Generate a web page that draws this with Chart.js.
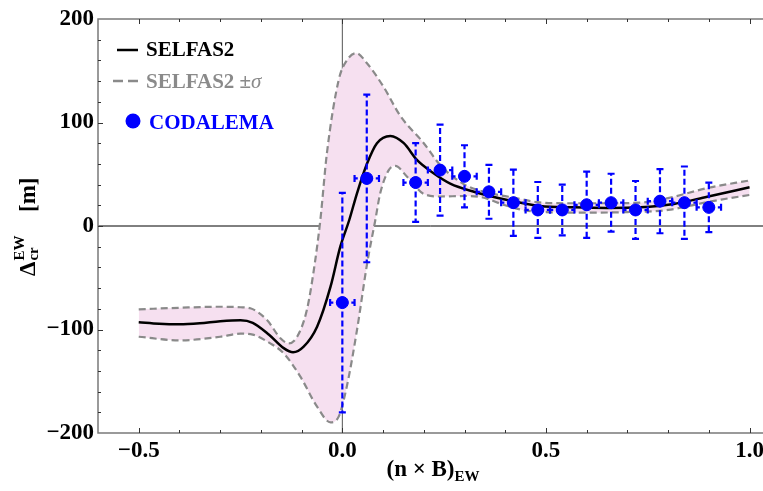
<!DOCTYPE html>
<html>
<head>
<meta charset="utf-8">
<script src="https://cdn.jsdelivr.net/npm/chart.js@4.4.0/dist/chart.umd.min.js"></script>
<style>
  body { margin: 0; background: #fff; overflow: hidden; }
  #wrap { width: 763px; height: 491px; }
</style>
</head>
<body>
<div id="wrap"><canvas id="myChart"></canvas></div>
<script>
// SELFAS2 simulation (black line)
const selfasX = [-0.5, -0.45, -0.4, -0.35, -0.3, -0.25, -0.22, -0.18, -0.144, -0.121, -0.095, -0.062, -0.029, -0.005, 0.017, 0.036, 0.061, 0.085, 0.118, 0.151, 0.183, 0.224, 0.265, 0.323, 0.405, 0.486, 0.568, 0.65, 0.732, 0.814, 0.896, 1.0];
const selfasY = [-93, -94.5, -95, -94, -92, -91, -93.5, -105, -118, -122, -116.6, -97.3, -58.6, -20, 5.8, 31.6, 60.6, 80, 87, 80, 63.8, 51, 41, 33.1, 25.1, 19.3, 18, 17.4, 18, 21.3, 28.3, 37.4];

// SELFAS2 + sigma
const upperX = [-0.5, -0.4, -0.3, -0.25, -0.226, -0.185, -0.152, -0.132, -0.111, -0.087, -0.07, -0.054, -0.038, -0.009, 0.011, 0.034, 0.061, 0.101, 0.143, 0.2, 0.24, 0.3, 0.36, 0.42, 0.48, 0.55, 0.65, 0.73, 0.8, 0.9, 1.0];
const upperY = [-80.5, -79, -78, -78.5, -79.5, -90.8, -108.5, -113.4, -107, -81, -42.5, 5.8, 70, 141, 160, 167, 157, 134.6, 106, 80, 59, 40, 32, 27.5, 23, 22, 22, 22.5, 27, 37, 44];

// SELFAS2 - sigma
const lowerX = [-0.5, -0.4, -0.3, -0.25, -0.22, -0.177, -0.144, -0.103, -0.062, -0.029, -0.009, 0.011, 0.036, 0.061, 0.081, 0.093, 0.114, 0.13, 0.159, 0.2, 0.24, 0.3, 0.34, 0.4, 0.45, 0.5, 0.6, 0.7, 0.8, 0.87, 0.93, 1.0];
const lowerY = [-107, -110.5, -107, -104, -105, -113.4, -123, -145.6, -174.6, -189.7, -184.2, -155, -100.5, -36, 5.8, 31.6, 54, 58, 47.6, 31, 28.5, 29, 28, 20, 15, 13.5, 12.9, 13.5, 15.5, 21, 25.5, 30];

// CODALEMA data
const codalemaX = [0.0, 0.06, 0.18, 0.24, 0.30, 0.36, 0.42, 0.48, 0.54, 0.60, 0.66, 0.72, 0.78, 0.84, 0.90];
const codalemaY = [-74, 46, 42, 54, 48, 33, 22.5, 15.5, 15.5, 20.5, 22.5, 15.5, 24, 22.5, 18];
const codalemaErrY = [106, 81, 38, 44, 30, 26, 32, 27, 24.5, 32, 28, 28, 31, 35, 24];
const codalemaErrX = [0.03, 0.03, 0.03, 0.03, 0.03, 0.03, 0.03, 0.03, 0.03, 0.03, 0.03, 0.03, 0.03, 0.03, 0.03];

const xTicks = [-0.5, 0.0, 0.5, 1.0];
const yTicks = [-200, -100, 0, 100, 200];

const serif = "'Liberation Serif', 'DejaVu Serif', serif";
const blue = '#0000ff';
const grey = '#8a8a8a';

function toPoints(xs, ys) {
    return xs.map((x, i) => ({ x: x, y: ys[i] }));
}

function minus(s) {
    return s.replace('-', '\u2212');
}

// lignes zero, sous les courbes
const zeroLines = {
    id: 'zeroLines',
    beforeDatasetsDraw(chart) {
        const ctx = chart.ctx, a = chart.chartArea;
        const x0 = chart.scales.x.getPixelForValue(0);
        const y0 = chart.scales.y.getPixelForValue(0);
        ctx.save();
        ctx.lineWidth = 1;
        ctx.strokeStyle = '#555';
        ctx.beginPath(); ctx.moveTo(x0, a.top); ctx.lineTo(x0, a.bottom); ctx.stroke();
        ctx.strokeStyle = '#000';
        ctx.beginPath(); ctx.moveTo(a.left, y0); ctx.lineTo(a.right, y0); ctx.stroke();
        ctx.restore();
    }
};

// barres d'erreur, juste avant les points
const errorBars = {
    id: 'errorBars',
    beforeDatasetDraw(chart, args) {
        if (args.index !== 3) return;
        const ctx = chart.ctx, xs = chart.scales.x, ys = chart.scales.y;
        ctx.save();
        ctx.strokeStyle = blue;
        ctx.lineWidth = 2.2;
        for (let i = 0; i < codalemaX.length; i++) {
            const px = xs.getPixelForValue(codalemaX[i]);
            const py = ys.getPixelForValue(codalemaY[i]);
            const top = ys.getPixelForValue(codalemaY[i] + codalemaErrY[i]);
            const bot = ys.getPixelForValue(codalemaY[i] - codalemaErrY[i]);
            const left = xs.getPixelForValue(codalemaX[i] - codalemaErrX[i]);
            const right = xs.getPixelForValue(codalemaX[i] + codalemaErrX[i]);
            ctx.setLineDash([6, 3]);
            ctx.beginPath();
            ctx.moveTo(px, py); ctx.lineTo(px, top);
            ctx.moveTo(px, py); ctx.lineTo(px, bot);
            ctx.moveTo(px, py); ctx.lineTo(left, py);
            ctx.moveTo(px, py); ctx.lineTo(right, py);
            ctx.stroke();
            ctx.setLineDash([]);
            ctx.beginPath();
            ctx.moveTo(px - 3.5, top); ctx.lineTo(px + 3.5, top);
            ctx.moveTo(px - 3.5, bot); ctx.lineTo(px + 3.5, bot);
            ctx.moveTo(left, py - 3.5); ctx.lineTo(left, py + 3.5);
            ctx.moveTo(right, py - 3.5); ctx.lineTo(right, py + 3.5);
            ctx.stroke();
        }
        ctx.restore();
    }
};

// cadre + graduations vers l'interieur
const frame = {
    id: 'frame',
    afterDatasetsDraw(chart) {
        const ctx = chart.ctx, a = chart.chartArea;
        const xs = chart.scales.x, ys = chart.scales.y;
        ctx.save();
        ctx.strokeStyle = '#7a7a7a';
        ctx.lineWidth = 1.5;
        ctx.beginPath();
        ctx.moveTo(chart.width, a.top); ctx.lineTo(a.left, a.top);
        ctx.lineTo(a.left, a.bottom); ctx.lineTo(chart.width, a.bottom);
        ctx.stroke();
        ctx.strokeStyle = '#333';
        ctx.lineWidth = 1;
        ctx.beginPath();
        for (let k = -5; k <= 10; k++) {
            const px = Math.round(xs.getPixelForValue(k / 10)) + 0.5;
            const len = (k % 5 === 0) ? 5 : 3;
            ctx.moveTo(px, a.bottom); ctx.lineTo(px, a.bottom - len);
            ctx.moveTo(px, a.top); ctx.lineTo(px, a.top + len);
        }
        for (let v = -180; v <= 180; v += 20) {
            const py = Math.round(ys.getPixelForValue(v)) + 0.5;
            const len = (v % 100 === 0) ? 5 : 3;
            ctx.moveTo(a.left, py); ctx.lineTo(a.left + len, py);
        }
        ctx.stroke();
        ctx.restore();
    }
};

// titres des axes et legende
const labels = {
    id: 'labels',
    afterDraw(chart) {
        const ctx = chart.ctx;
        ctx.save();
        ctx.fillStyle = '#000';
        ctx.textBaseline = 'alphabetic';
        ctx.textAlign = 'left';

        // titre x : (n x B)_EW
        ctx.font = 'bold 23px ' + serif;
        const main = '(n \u00d7 B)';
        const w1 = ctx.measureText(main).width;
        ctx.font = 'bold 15px ' + serif;
        const w2 = ctx.measureText('EW').width;
        const sx = 433 - (w1 + w2) / 2;
        ctx.font = 'bold 23px ' + serif;
        ctx.fillText(main, sx, 476);
        ctx.font = 'bold 15px ' + serif;
        ctx.fillText('EW', sx + w1, 481);

        // titre y : Delta_cr^EW [m]
        ctx.save();
        ctx.translate(35, 276);
        ctx.rotate(-Math.PI / 2);
        ctx.font = 'bold 23px ' + serif;
        ctx.fillText('\u0394', 0, 0);
        const wd = ctx.measureText('\u0394').width;
        ctx.font = 'bold 15px ' + serif;
        ctx.fillText('EW', wd + 1, -11);
        ctx.fillText('cr', wd + 1, 3);
        ctx.font = 'bold 23px ' + serif;
        ctx.fillText('[m]', 64, 0);
        ctx.restore();

        // legende
        ctx.font = 'bold 21px ' + serif;
        ctx.strokeStyle = '#000';
        ctx.lineWidth = 2.5;
        ctx.beginPath(); ctx.moveTo(117, 50); ctx.lineTo(138, 50); ctx.stroke();
        ctx.fillText('SELFAS2', 146, 56);

        ctx.strokeStyle = grey;
        ctx.lineWidth = 2.5;
        ctx.setLineDash([10, 5]);
        ctx.beginPath(); ctx.moveTo(113, 81); ctx.lineTo(140, 81); ctx.stroke();
        ctx.setLineDash([]);
        ctx.fillStyle = grey;
        const t2 = 'SELFAS2 \u00b1';
        ctx.fillText(t2, 146, 88);
        const wt2 = ctx.measureText(t2).width;
        ctx.font = 'italic 21px ' + serif;
        ctx.fillText('\u03c3', 146 + wt2, 88);

        ctx.fillStyle = blue;
        ctx.beginPath(); ctx.arc(133, 121, 7.5, 0, Math.PI * 2); ctx.fill();
        ctx.font = 'bold 21px ' + serif;
        ctx.fillText('CODALEMA', 149, 129);
        ctx.restore();
    }
};

const data = {
    datasets: [
        {
            label: 'SELFAS2 +sigma',
            data: toPoints(upperX, upperY),
            borderColor: grey,
            borderWidth: 2.2,
            borderDash: [7, 4],
            backgroundColor: 'rgb(246, 224, 240)',
            fill: '+1',
            pointRadius: 0,
            cubicInterpolationMode: 'monotone',
            order: 4
        },
        {
            label: 'SELFAS2 -sigma',
            data: toPoints(lowerX, lowerY),
            borderColor: grey,
            borderWidth: 2.2,
            borderDash: [7, 4],
            fill: false,
            pointRadius: 0,
            cubicInterpolationMode: 'monotone',
            order: 3
        },
        {
            label: 'SELFAS2',
            data: toPoints(selfasX, selfasY),
            borderColor: '#000',
            borderWidth: 2.5,
            fill: false,
            pointRadius: 0,
            cubicInterpolationMode: 'monotone',
            order: 2
        },
        {
            label: 'CODALEMA',
            type: 'scatter',
            data: toPoints(codalemaX, codalemaY),
            backgroundColor: blue,
            borderColor: blue,
            pointRadius: 6,
            showLine: false,
            order: 1
        }
    ]
};

const config = {
    type: 'line',
    data: data,
    options: {
        responsive: true,
        maintainAspectRatio: false,
        animation: false,
        layout: { autoPadding: false, padding: { top: 19, right: 0, left: 0, bottom: 0 } },
        plugins: {
            legend: { display: false },
            tooltip: { enabled: false }
        },
        scales: {
            x: {
                type: 'linear',
                min: -0.6,
                max: 1.033,
                grid: { display: false, drawTicks: false },
                border: { display: false },
                afterBuildTicks: s => { s.ticks = xTicks.map(v => ({ value: v })); },
                afterFit: s => { s.height = 58; s.paddingLeft = 0; s.paddingRight = 0; },
                ticks: {
                    padding: 4,
                    color: '#000',
                    maxRotation: 0,
                    font: { family: serif, size: 23, weight: 'bold' },
                    callback: v => minus(v.toFixed(1))
                }
            },
            y: {
                type: 'linear',
                min: -200,
                max: 200,
                grid: { display: false, drawTicks: false },
                border: { display: false },
                afterBuildTicks: s => { s.ticks = yTicks.map(v => ({ value: v })); },
                afterFit: s => { s.width = 98; s.paddingTop = 0; s.paddingBottom = 0; },
                ticks: {
                    padding: 4,
                    color: '#000',
                    font: { family: serif, size: 23, weight: 'bold' },
                    callback: v => minus(String(v))
                }
            }
        }
    },
    plugins: [zeroLines, errorBars, frame, labels]
};

const myChart = new Chart(document.getElementById('myChart'), config);
</script>
</body>
</html>
